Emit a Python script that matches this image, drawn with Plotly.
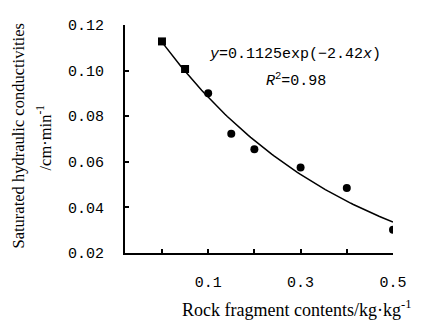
import numpy as np
import plotly.graph_objects as go

# Data
rock_fragment = [0.0, 0.05, 0.10, 0.15, 0.20, 0.30, 0.40, 0.50]
ks_values = [0.1128, 0.1007, 0.0901, 0.0723, 0.0655, 0.0575, 0.0485, 0.0302]
marker_symbols = ["square", "square", "circle", "circle", "circle", "circle", "circle", "circle"]

# Fitted trend (from the equation shown on the chart)
fit_a = 0.1125
fit_b = -2.42

x_tickvals = [0.1, 0.3, 0.5]
x_ticktext = ["0.1", "0.3", "0.5"]
x_minor_step = 0.1
y_tickvals = [0.02, 0.04, 0.06, 0.08, 0.10, 0.12]
y_ticktext = ["0.02", "0.04", "0.06", "0.08", "0.10", "0.12"]

fit_x = np.linspace(min(rock_fragment), max(rock_fragment), 100)
fit_y = fit_a * np.exp(fit_b * fit_x)

mono = "Liberation Mono"
serif = "Liberation Serif"
tick_font = dict(family=mono, size=15, color="black")

# page body has an 8px default margin; figure is sized to fill the rest
OFF = 8
fig = go.Figure()
fig.add_trace(go.Scatter(x=fit_x, y=fit_y, mode="lines",
                         line=dict(color="black", width=1.5), showlegend=False,
                         hoverinfo="skip"))
fig.add_trace(go.Scatter(x=rock_fragment, y=ks_values, mode="markers",
                         marker=dict(color="black", size=8, symbol=marker_symbols),
                         showlegend=False))

fig.update_layout(
    width=423 - OFF, height=320 - OFF,
    margin=dict(l=125 - OFF, r=30, t=18 - OFF, b=67),
    plot_bgcolor="white", paper_bgcolor="white",
    font=dict(family=serif, color="black"),
    xaxis=dict(range=[-0.08, 0.5], tickmode="array", tickvals=x_tickvals, ticktext=x_ticktext,
               ticks="inside", ticklen=4, tickwidth=1.5, tickcolor="black",
               minor=dict(ticks="inside", tickmode="linear", tick0=0, dtick=x_minor_step,
                          ticklen=4, tickwidth=1.5, tickcolor="black", showgrid=False),
               showline=True, linecolor="black", linewidth=2, showgrid=False,
               zeroline=False, tickfont=tick_font, ticklabelstandoff=14),
    yaxis=dict(range=[0.02, 0.12], tickvals=y_tickvals, ticktext=y_ticktext,
               ticks="inside", ticklen=4, tickwidth=1.5, tickcolor="black",
               showline=True, linecolor="black", linewidth=2, showgrid=False,
               zeroline=False, tickfont=tick_font, ticklabelstandoff=16),
)

# axis titles (placed in pixels relative to the plot area)
fig.add_annotation(xref="paper", yref="paper", x=0.5, y=0, xanchor="center", yanchor="middle",
                   xshift=296 - (125 + 393) / 2, yshift=-(308 - 253),
                   text="Rock fragment contents/kg·kg<sup>-1</sup>", showarrow=False,
                   font=dict(family=serif, size=18, color="black"))
fig.add_annotation(xref="paper", yref="paper", x=0, y=0.5, xanchor="center", yanchor="middle",
                   xshift=18 - 125, yshift=135.5 - 133, textangle=-90,
                   text="Saturated hydraulic conductivities", showarrow=False,
                   font=dict(family=serif, size=16.5, color="black"))
fig.add_annotation(xref="paper", yref="paper", x=0, y=0.5, xanchor="center", yanchor="middle",
                   xshift=45 - 125, yshift=135.5 - 134, textangle=-90,
                   text="/cm·min<sup>-1</sup>", showarrow=False,
                   font=dict(family=serif, size=16.5, color="black"))

# fit equation
fig.add_annotation(x=0.2876, y=0.1072, xref="x", yref="y",
                   text="<i>y</i>=0.1125exp(−2.42<i>x</i>)", showarrow=False,
                   font=dict(family=mono, size=15, color="black"))
fig.add_annotation(x=0.29, y=0.0957, xref="x", yref="y",
                   text="<i>R</i><sup>2</sup>=0.98", showarrow=False,
                   font=dict(family=mono, size=15, color="black"))

fig.write_html("out.html")
